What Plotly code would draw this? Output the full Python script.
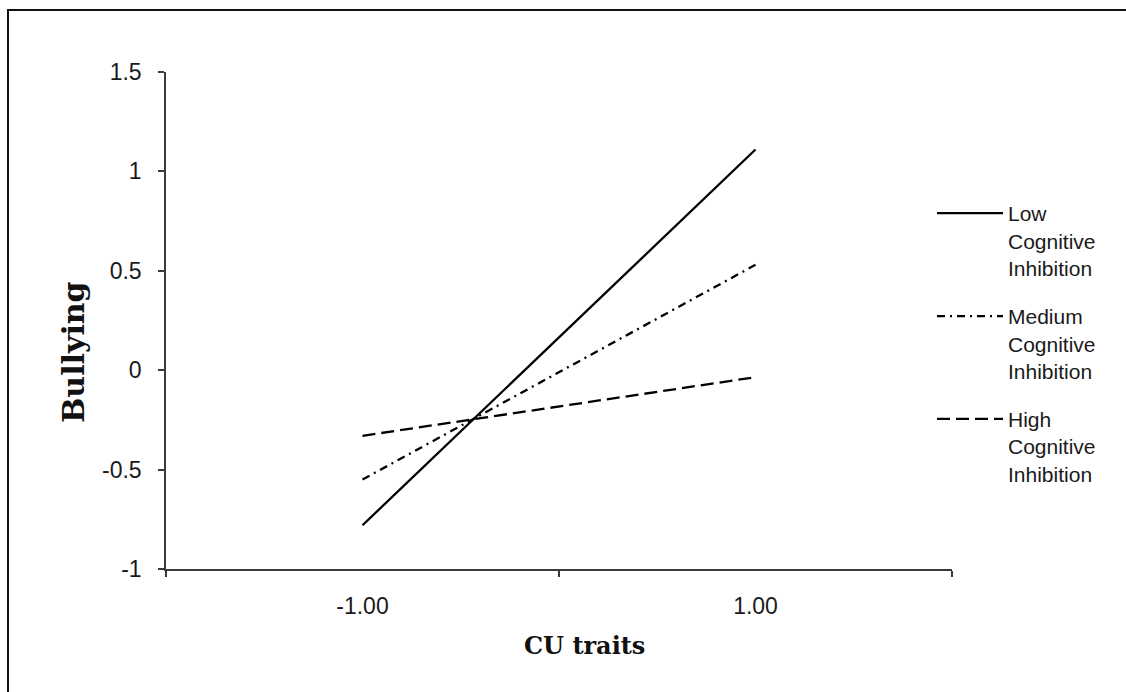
import plotly.graph_objects as go

categories = ["-1.00", "1.00"]
low_ci = [-0.78, 1.11]
medium_ci = [-0.55, 0.53]
high_ci = [-0.33, -0.035]
series_names = ["Low<br>Cognitive<br>Inhibition", "Medium<br>Cognitive<br>Inhibition", "High<br>Cognitive<br>Inhibition"]
y_ticks = [-1, -0.5, 0, 0.5, 1, 1.5]
y_ticklabels = ["-1", "-0.5", "0", "0.5", "1", "1.5"]

W, H = 1126, 692
ML, MR, MT, MB = 166, 174, 72, 123
pw, ph = W - ML - MR, H - MT - MB

def px_x(p):
    return (p - ML) / pw

def px_y(p):
    return (H - MB - p) / ph

fig = go.Figure()
styles = [("solid", "g1"), ("8px,5px,2px,5px", "g2"), ("13px,6px", "g3")]
for name, vals, (dash, grp) in zip(series_names, [low_ci, medium_ci, high_ci], styles):
    fig.add_trace(go.Scatter(
        x=categories, y=vals, mode="lines", name=name, legendgroup=grp,
        line=dict(color="black", width=2.3, dash=dash),
    ))

fig.update_layout(
    width=W, height=H,
    margin=dict(l=ML, r=MR, t=MT, b=MB),
    paper_bgcolor="white", plot_bgcolor="white",
    font=dict(family="Liberation Sans, Arial", color="#1a1a1a"),
    showlegend=True,
    legend=dict(
        x=px_x(932), y=px_y(193), xanchor="left", yanchor="top",
        font=dict(size=21, family="Liberation Sans, Arial", color="#1a1a1a"),
        valign="top", tracegroupgap=18, traceorder="grouped",
        itemwidth=66, bgcolor="rgba(0,0,0,0)",
    ),
    xaxis=dict(
        type="category", range=[-0.5, 1.5], showgrid=False, zeroline=False,
        showline=True, linecolor="#3a3a3a", linewidth=1.5,
        ticks="outside", ticklen=6, tickcolor="#3a3a3a", tickwidth=1.5,
        tickson="boundaries", ticklabelstandoff=16,
        tickfont=dict(size=23, family="Liberation Sans, Arial", color="#1a1a1a"),
    ),
    yaxis=dict(
        range=[-1, 1.5], tickvals=y_ticks, ticktext=y_ticklabels,
        showgrid=False, zeroline=False,
        showline=True, linecolor="#3a3a3a", linewidth=1.5,
        ticks="outside", ticklen=6, tickcolor="#3a3a3a", tickwidth=1.5,
        ticklabelstandoff=12,
        tickfont=dict(size=23, family="Liberation Sans, Arial", color="#1a1a1a"),
    ),
    annotations=[
        dict(text="<b>Bullying</b>", xref="paper", yref="paper", x=px_x(73), y=px_y(352),
             textangle=-90, showarrow=False, xanchor="center", yanchor="middle",
             font=dict(size=30, family="DejaVu Serif", color="#111")),
        dict(text="<b>CU traits</b>", xref="paper", yref="paper", x=px_x(584), y=px_y(645),
             showarrow=False, xanchor="center", yanchor="middle",
             font=dict(size=24, family="DejaVu Serif", color="#111")),
    ],
    shapes=[
        dict(type="rect", xref="paper", yref="paper", x0=px_x(8), y0=px_y(900),
             x1=px_x(1500), y1=px_y(10), line=dict(color="#111", width=2), layer="below"),
    ],
)

fig.write_html(
    "out.html",
    config={"displayModeBar": False},
    post_script="document.body.style.margin='0';document.body.style.padding='0';document.body.style.overflow='hidden';",
)
